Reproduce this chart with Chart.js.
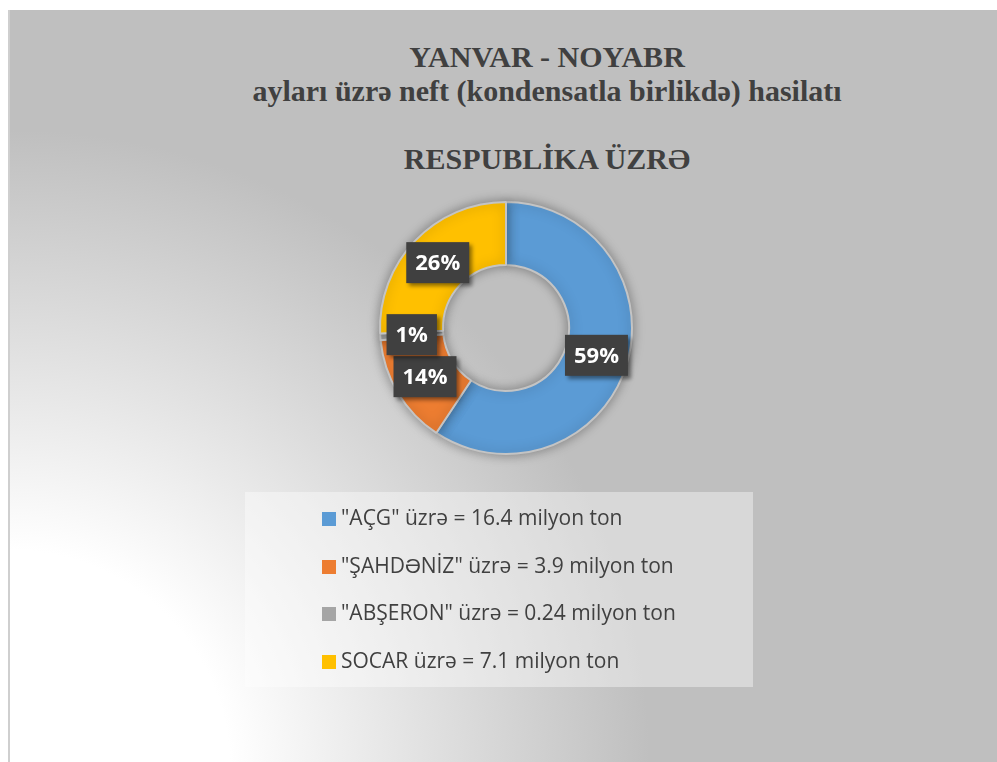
<!DOCTYPE html>
<html>
<head>
<meta charset="utf-8">
<script src="https://cdn.jsdelivr.net/npm/chart.js@4/dist/chart.umd.min.js"></script>
<style>
  html, body { margin: 0; padding: 0; background: #fff; }
  body { width: 997px; height: 762px; position: relative; overflow: hidden; }
  #panel {
    position: absolute; left: 8px; top: 10px; width: 1000px; height: 760px;
    border-left: 2px solid #cfcfcf;
    background: radial-gradient(circle at 0 100%, #ffffff 0px, #ffffff 220px, #bfbfbf 640px);
  }
  #title {
    position: absolute; left: 200px; width: 694px; top: 40px;
    text-align: center; color: #404040;
    font: bold 30px/34px "Liberation Serif", "Times New Roman", serif;
  }
  #chartBox { position: absolute; left: 0; top: 0; width: 997px; height: 762px; }
  #legend {
    position: absolute; left: 245px; top: 492px; width: 508px; height: 195px;
    background: rgba(255, 255, 255, 0.4);
  }
  .item {
    position: absolute; left: 77px; height: 30px; line-height: 30px;
    font: 21px "Open Sans", sans-serif; color: #404040; white-space: nowrap;
  }
  .item span.box {
    display: inline-block; width: 14px; height: 14px; margin-right: 5px;
    vertical-align: -1px;
  }
</style>
</head>
<body>
<div id="panel"></div>
<div id="title">YANVAR - NOYABR<br>ayları üzrə neft (kondensatla birlikdə) hasilatı<br><br>RESPUBLİKA ÜZRƏ</div>
<div id="chartBox"><canvas id="oilChart" width="997" height="762"></canvas></div>
<div id="legend"></div>
<script>
const labels = ['"AÇG" üzrə', '"ŞAHDƏNİZ" üzrə', '"ABŞERON" üzrə', 'SOCAR üzrə'];
const values = [16.4, 3.9, 0.24, 7.1];   // milyon ton
const colors = ['#5b9bd5', '#ed7d31', '#a5a5a5', '#ffc000'];
const unit = 'milyon ton';

// shadow under the ring
const ringShadow = {
    id: 'ringShadow',
    beforeDatasetsDraw(chart) {
        const c = chart.ctx;
        c.save();
        c.shadowColor = 'rgba(0,0,0,0.35)';
        c.shadowBlur = 12;
    },
    afterDatasetsDraw(chart) {
        chart.ctx.restore();
    }
};

// dark percent boxes on each slice
const pctBoxes = {
    id: 'pctBoxes',
    afterDatasetsDraw(chart) {
        const c = chart.ctx;
        const meta = chart.getDatasetMeta(0);
        const total = values.reduce((a, b) => a + b, 0);
        c.save();
        c.font = 'bold 22px "Open Sans", sans-serif';
        c.textAlign = 'center';
        c.textBaseline = 'middle';
        meta.data.forEach((arc, i) => {
            const p = arc.getCenterPoint();
            const txt = Math.round(values[i] / total * 100) + '%';
            const w = c.measureText(txt).width + 18;
            const h = 41;
            c.shadowColor = 'rgba(0,0,0,0.45)';
            c.shadowBlur = 4;
            c.shadowOffsetX = 3;
            c.shadowOffsetY = 3;
            c.fillStyle = '#404040';
            c.fillRect(p.x - w / 2, p.y - h / 2, w, h);
            c.shadowColor = 'transparent';
            c.fillStyle = '#ffffff';
            c.fillText(txt, p.x, p.y + 1);
        });
        c.restore();
    }
};

const chart = new Chart(document.getElementById('oilChart'), {
    type: 'doughnut',
    data: {
        labels: labels,
        datasets: [{
            data: values,
            backgroundColor: colors,
            borderColor: '#c4c4c4',
            borderWidth: 2,
            hoverOffset: 0
        }]
    },
    options: {
        responsive: false,
        animation: false,
        cutout: '50%',
        radius: 126,
        layout: { padding: { left: 380, right: 365, top: 202, bottom: 308 } },
        plugins: {
            legend: { display: false },
            title: { display: false },
            tooltip: { enabled: false }
        }
    },
    plugins: [ringShadow, pctBoxes]
});

// legend list built from the same arrays
const legendEl = document.getElementById('legend');
const rowTops = [11, 59, 106, 154];
labels.forEach((lab, i) => {
    const d = document.createElement('div');
    d.className = 'item';
    d.style.top = rowTops[i] + 'px';
    d.innerHTML = '<span class="box" style="background:' + colors[i] + '"></span>' +
        lab + ' = ' + values[i] + ' ' + unit;
    legendEl.appendChild(d);
});
</script>
</body>
</html>
